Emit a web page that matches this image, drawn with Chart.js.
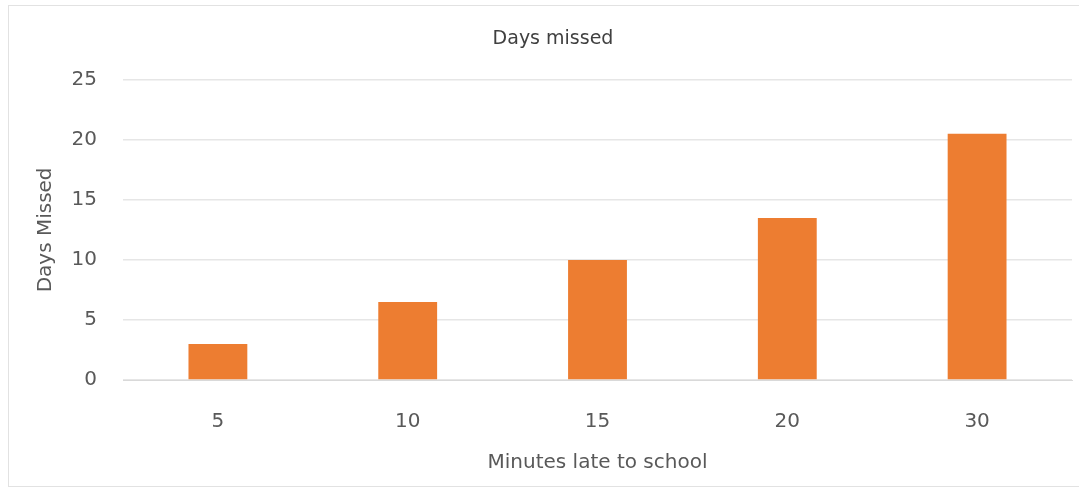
<!DOCTYPE html>
<html lang="en">
<head>
<meta charset="UTF-8">
<title>Days missed</title>
<script src="https://cdn.jsdelivr.net/npm/chart.js"></script>
<style>
  body { margin: 0; background: #fff; }
  .quadro { position: absolute; left: 8px; top: 5px; width: 1075px; height: 480px; border: 1px solid #e2e2e2; }
  #grafico { position: absolute; left: 0; top: 0; }
</style>
</head>
<body>
<div class="quadro"></div>
<canvas id="grafico" width="1079" height="489" style="width:1079px;height:489px;"></canvas>
<script>
// dados
var minutos = ['5', '10', '15', '20', '30'];
var diasFaltados = [3, 6.5, 10, 13.5, 20.5];
var marcasY = [0, 5, 10, 15, 20, 25];

var fonte = "'DejaVu Sans', sans-serif";
var cinza = '#595959';

new Chart(document.getElementById('grafico'), {
    type: 'bar',
    data: {
        labels: minutos,
        datasets: [{
            label: 'Days missed',
            data: diasFaltados,
            backgroundColor: '#ED7D31',
            barPercentage: 0.31,
            categoryPercentage: 1
        }]
    },
    options: {
        responsive: false,
        animation: false,
        layout: { padding: { left: 34, right: 7, top: 0, bottom: 0 } },
        plugins: {
            legend: { display: false },
            tooltip: { enabled: false },
            title: {
                display: true,
                text: 'Days missed',
                color: '#404040',
                font: { family: fonte, size: 19, weight: 'normal' },
                padding: { top: 28, bottom: 29 }
            }
        },
        scales: {
            x: {
                grid: { display: false },
                border: { color: '#d9d9d9' },
                ticks: { color: cinza, font: { family: fonte, size: 20 }, padding: 22 },
                title: {
                    display: true,
                    text: 'Minutes late to school',
                    color: cinza,
                    font: { family: fonte, size: 20 },
                    padding: { top: 4, bottom: 14 }
                },
                afterFit: function (s) { s.height = 109; }
            },
            y: {
                min: 0,
                max: 25,
                afterBuildTicks: function (s) { s.ticks = marcasY.map(function (v) { return { value: v }; }); },
                grid: { color: '#e6e6e6', drawTicks: false, lineWidth: 1.5 },
                border: { display: false },
                ticks: { color: cinza, font: { family: fonte, size: 20 }, padding: 26 },
                title: {
                    display: true,
                    text: 'Days Missed',
                    color: cinza,
                    font: { family: fonte, size: 20 },
                    padding: { top: 0, bottom: 0 }
                },
                afterFit: function (s) { s.width = 89; }
            }
        }
    }
});
</script>
</body>
</html>
